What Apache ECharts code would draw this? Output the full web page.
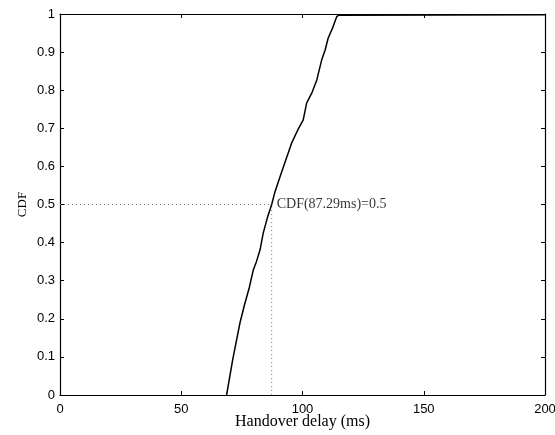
<!DOCTYPE html>
<html>
<head>
<meta charset="utf-8">
<script src="https://cdn.jsdelivr.net/npm/echarts@6/dist/echarts.min.js"></script>
<style>
  html, body { margin: 0; padding: 0; background: #fff; }
  #chart_id { width: 555px; height: 435px; }
</style>
</head>
<body>
<div id="chart_id"></div>
<script>
// handover delay (ms) vs CDF
var delayMs = [68.7, 71.2, 74.2, 76.0, 78.1, 79.7, 81.0, 82.5, 83.8, 85.5, 87.29, 88.5, 90.7, 93.0, 95.5, 98.0, 100.3, 101.7, 104.0, 105.9, 107.9, 109.3, 110.6, 112.5, 114.1, 115.0, 200];
var cdfVals = [0, 0.092, 0.189, 0.235, 0.283, 0.328, 0.350, 0.381, 0.425, 0.465, 0.5, 0.530, 0.572, 0.615, 0.661, 0.695, 0.722, 0.766, 0.795, 0.827, 0.879, 0.905, 0.937, 0.965, 0.993, 0.997, 0.998];
var xTicks = [0, 50, 100, 150, 200];
var medianDelay = 87.29;
var medianCdf = 0.5;

var chart = echarts.init(document.getElementById('chart_id'));

var curve = delayMs.map(function (d, i) { return [d, cdfVals[i]]; });

var tickStyle = { show: true, inside: true, length: 4, lineStyle: { color: '#000', width: 1 } };
var lineStyle = { show: true, onZero: false, lineStyle: { color: '#000', width: 1.2 } };

var option = {
  animation: false,
  grid: { left: 60, right: 10, top: 14, bottom: 40, show: false, outerBoundsMode: 'none', containLabel: false },
  xAxis: [
    {
      type: 'value', min: 0, max: 200, interval: 50,
      name: 'Handover delay (ms)', nameLocation: 'middle', nameGap: 19, nameMoveOverlap: false,
      nameTextStyle: { fontFamily: 'Liberation Serif', fontSize: 16, color: '#000' },
      axisLine: lineStyle, axisTick: tickStyle,
      axisLabel: { color: '#000', fontFamily: 'Liberation Sans', fontSize: 13, margin: 8,
        formatter: function (v) { return xTicks.indexOf(v) >= 0 ? v : ''; } },
      splitLine: { show: false }
    },
    {
      type: 'value', min: 0, max: 200, interval: 50, position: 'top',
      axisLine: lineStyle, axisTick: tickStyle, axisLabel: { show: false }, splitLine: { show: false }
    }
  ],
  yAxis: [
    {
      type: 'value', min: 0, max: 1, interval: 0.1,
      name: 'CDF', nameLocation: 'middle', nameGap: 31, nameMoveOverlap: false,
      nameTextStyle: { fontFamily: 'Liberation Serif', fontSize: 13, color: '#000' },
      axisLine: lineStyle, axisTick: tickStyle,
      axisLabel: { color: '#000', fontFamily: 'Liberation Sans', fontSize: 13, margin: 5,
        formatter: function (v) { return Math.round(v * 10) / 10; } },
      splitLine: { show: false }
    },
    {
      type: 'value', min: 0, max: 1, interval: 0.1, position: 'right',
      axisLine: lineStyle, axisTick: tickStyle, axisLabel: { show: false }, splitLine: { show: false }
    }
  ],
  series: [
    {
      type: 'line',
      data: curve,
      showSymbol: false,
      lineStyle: { color: '#000', width: 1.5 },
      z: 5
    },
    {
      type: 'line',
      data: [[0, medianCdf], [medianDelay, medianCdf]],
      showSymbol: false,
      lineStyle: { color: '#777', width: 1, type: [1, 3] },
      z: 3
    },
    {
      type: 'line',
      data: [[medianDelay, 0], [medianDelay, medianCdf]],
      showSymbol: false,
      lineStyle: { color: '#777', width: 1, type: [1, 3] },
      z: 3
    },
    {
      type: 'scatter',
      data: [[medianDelay, medianCdf]],
      symbolSize: 0,
      label: {
        show: true, position: 'right', distance: 5,
        formatter: 'CDF(87.29ms)=0.5',
        fontFamily: 'Liberation Serif', fontSize: 14, color: '#000'
      },
      z: 6
    }
  ]
};

chart.setOption(option);
</script>
</body>
</html>
